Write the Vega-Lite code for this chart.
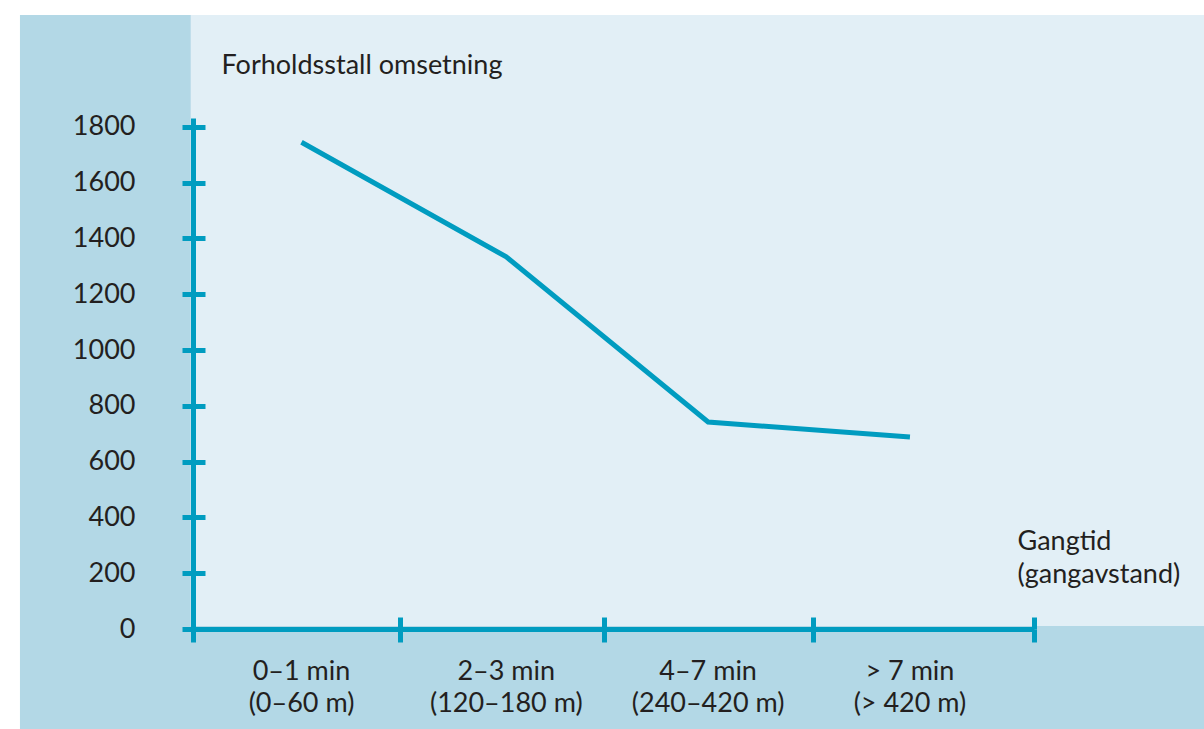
{
  "$schema": "https://vega.github.io/schema/vega-lite/v6.json",
  "autosize": {"type": "none"},
  "width": 841,
  "height": 511,
  "padding": {"left": 193, "top": 118, "right": 170, "bottom": 100},
  "background": "white",
  "config": {
    "view": {"stroke": null},
    "font": "Lato",
    "axis": {"grid": false, "zindex": 1}
  },
  "data": {
    "values": [
      {"tid": "0–1 min", "avstand": "(0–60 m)", "pos": 0.516, "omsetning": 1745},
      {"tid": "2–3 min", "avstand": "(120–180 m)", "pos": 1.49, "omsetning": 1334},
      {"tid": "4–7 min", "avstand": "(240–420 m)", "pos": 2.45, "omsetning": 742},
      {"tid": "> 7 min", "avstand": "(> 420 m)", "pos": 3.41, "omsetning": 688}
    ]
  },
  "layer": [
    {
      "data": {"values": [{}]},
      "mark": {"type": "rect", "color": "#b3d8e6"},
      "encoding": {
        "x": {"datum": -0.823, "type": "quantitative", "scale": {"domain": [0, 4], "nice": false}, "axis": null},
        "x2": {"datum": 4.82},
        "y": {"datum": -360, "type": "quantitative", "scale": {"domain": [0, 1832], "nice": false}, "axis": null},
        "y2": {"datum": 2201.3}
      }
    },
    {
      "data": {"values": [{}]},
      "mark": {"type": "rect", "color": "#e2eff6"},
      "encoding": {
        "x": {"datum": -0.0109, "type": "quantitative", "scale": {"domain": [0, 4], "nice": false}, "axis": null},
        "x2": {"datum": 4.82},
        "y": {"datum": 10.76, "type": "quantitative", "scale": {"domain": [0, 1832], "nice": false}, "axis": null},
        "y2": {"datum": 2201.3}
      }
    },
    {
      "mark": {"type": "line", "color": "#009cc0", "strokeWidth": 5, "strokeCap": "butt", "strokeJoin": "miter"},
      "encoding": {
        "x": {
          "field": "pos", "type": "quantitative",
          "scale": {"domain": [0, 4], "nice": false},
          "axis": {
            "orient": "bottom", "values": [0, 0.986, 1.955, 2.949, 4],
            "labels": false, "domain": true, "domainColor": "#009cc0", "domainWidth": 5, "domainCap": "butt",
            "ticks": true, "tickColor": "#009cc0", "tickWidth": 5, "tickSize": 13,
            "title": ["Gangtid", "(gangavstand)"],
            "titleFont": "Lato", "titleFontSize": 27, "titleFontWeight": "normal", "titleColor": "#231f20",
            "titleAlign": "left", "titleBaseline": "alphabetic", "titleX": 824, "titleY": -80, "titleLineHeight": 33,
            "zindex": 1
          }
        },
        "y": {
          "field": "omsetning", "type": "quantitative",
          "scale": {"domain": [0, 1832], "nice": false},
          "axis": {
            "orient": "left", "values": [0, 200, 400, 600, 800, 1000, 1200, 1400, 1600, 1800], "format": "d",
            "domain": true, "domainColor": "#009cc0", "domainWidth": 5, "domainCap": "butt",
            "ticks": true, "tickColor": "#009cc0", "tickWidth": 5, "tickSize": 11,
            "labelFont": "Lato", "labelFontSize": 27, "labelColor": "#231f20", "labelPadding": 47,
            "labelBaseline": "middle",
            "title": "Forholdsstall omsetning",
            "titleFont": "Lato", "titleFontSize": 27, "titleFontWeight": "normal", "titleColor": "#231f20",
            "titleAngle": 0, "titleAlign": "left", "titleBaseline": "alphabetic", "titleX": 28, "titleY": -45,
            "zindex": 1
          }
        }
      }
    },
    {
      "mark": {"type": "text", "font": "Lato", "fontSize": 27, "color": "#231f20", "align": "center", "baseline": "alphabetic", "dy": 51},
      "encoding": {
        "x": {
          "field": "pos", "type": "quantitative",
          "scale": {"domain": [0, 4], "nice": false},
          "axis": {
            "orient": "bottom", "values": [0, 0.986, 1.955, 2.949, 4],
            "labels": false, "domain": false, "ticks": true, "tickColor": "#009cc0", "tickWidth": 5, "tickSize": -12,
            "title": null, "zindex": 1
          }
        },
        "y": {
          "datum": 0, "type": "quantitative",
          "scale": {"domain": [0, 1832], "nice": false},
          "axis": {
            "orient": "left", "values": [0, 200, 400, 600, 800, 1000, 1200, 1400, 1600, 1800],
            "labels": false, "domain": false, "ticks": true, "tickColor": "#009cc0", "tickWidth": 5, "tickSize": -12,
            "title": null, "zindex": 1
          }
        },
        "text": {"field": "tid"}
      }
    },
    {
      "mark": {"type": "text", "font": "Lato", "fontSize": 27, "color": "#231f20", "align": "center", "baseline": "alphabetic", "dy": 83},
      "encoding": {
        "x": {"field": "pos", "type": "quantitative", "scale": {"domain": [0, 4], "nice": false}, "axis": null},
        "y": {"datum": 0, "type": "quantitative", "scale": {"domain": [0, 1832], "nice": false}, "axis": null},
        "text": {"field": "avstand"}
      }
    }
  ],
  "resolve": {"axis": {"x": "independent", "y": "independent"}}
}
